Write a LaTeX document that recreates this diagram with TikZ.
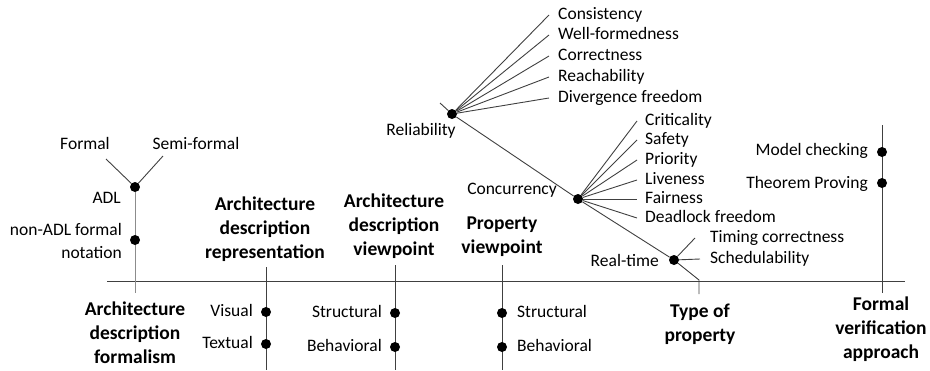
\documentclass[tikz,border=0pt]{standalone}
\usepackage{fontspec}
\setmainfont{Carlito}
\usepackage{tikz}

\begin{document}
\begin{tikzpicture}[x=1pt, y=-1pt,
        dot/.style={circle, fill=black, inner sep=0pt, minimum size=10pt},
        lbl/.style={inner sep=0pt, text height=1em, text depth=0.2em,
                    font=\fontsize{17.5}{20.5}\selectfont},
        mlbl/.style={inner sep=0pt, align=right, font=\fontsize{17.5}{22.5}\selectfont},
        ttl/.style={inner sep=0pt, align=center, font=\fontsize{19.5}{24}\selectfont\bfseries},
        ln/.style={draw=black!75, line width=0.9pt}]

    \useasboundingbox (0,0) rectangle (930,370);

    % main axis
    \coordinate (axL) at (107,281);
    \coordinate (axR) at (905,281);
    \draw[ln] (axL) -- (axR);

    % architecture description formalism
    \coordinate (adfB) at (135,293);
    \coordinate (formalE) at (106,159);
    \coordinate (semiE) at (163,156);
    \node[dot] (adl) at (135,187) {};
    \draw[ln, draw=black!45] (adl) -- (adfB);
    \draw[ln] (formalE) -- (adl);
    \draw[ln] (semiE) -- (adl);
    \node[dot] (nonadl) at (135,240) {};
    \node[lbl] (formal) at (85,145) {Formal};
    \node[lbl] (semi) at (196,145) {Semi-formal};
    \node[lbl, anchor=east] (adlT) at (121,199) {ADL};
    \node[mlbl, anchor=east] (nonadlT) at (122,241) {non-ADL formal\\notation};
    \node[ttl] (adf) at (135,333) {Architecture\\description\\formalism};

    % architecture description representation
    \coordinate (adrT) at (266,267);
    \coordinate (adrB) at (266,370);
    \draw[ln] (adrT) -- (adrB);
    \node[dot] (visual) at (266,312) {};
    \node[dot] (textual) at (266,344) {};
    \node[lbl, anchor=east] (visualT) at (253,312) {Visual};
    \node[lbl, anchor=east] (textualT) at (253,344) {Textual};
    \node[ttl] (adr) at (265,229) {Architecture\\description\\representation};

    % architecture description viewpoint
    \coordinate (advT) at (395,265);
    \coordinate (advB) at (395,370);
    \draw[ln] (advT) -- (advB);
    \node[dot] (advS) at (395,313) {};
    \node[dot] (advBh) at (395,347) {};
    \node[lbl, anchor=east] (advST) at (382,313) {Structural};
    \node[lbl, anchor=east] (advBT) at (382,347) {Behavioral};
    \node[ttl] (adv) at (394,226) {Architecture\\description\\viewpoint};

    % property viewpoint
    \coordinate (pvT) at (502,265);
    \coordinate (pvB) at (502,370);
    \draw[ln] (pvT) -- (pvB);
    \node[dot] (pvS) at (502,313) {};
    \node[dot] (pvBh) at (502,347) {};
    \node[lbl, anchor=west] (pvST) at (517,313) {Structural};
    \node[lbl, anchor=west] (pvBT) at (517,347) {Behavioral};
    \node[ttl] (pv) at (502,237) {Property\\viewpoint};

    % type of property
    \coordinate (relE) at (440,103);
    \coordinate (topT) at (699,280);
    \coordinate (topB) at (699,294);
    \node[dot] (rel) at (452,114) {};
    \node[dot] (conc) at (578,199) {};
    \node[dot] (rt) at (674,260) {};
    \draw[ln] (relE) -- (rel) -- (conc) -- (rt) -- (topT) -- (topB);
    \node[lbl] (relT) at (421,131) {Reliability};
    \node[lbl, anchor=east] (concT) at (557,190) {Concurrency};
    \node[lbl, anchor=east] (rtT) at (659,262) {Real-time};
    \node[ttl] (top) at (700,324) {Type of\\property};

    \foreach \nm/\txt/\yy in {cons/Consistency/15, wellf/Well-formedness/35,
            corr/Correctness/56, reach/Reachability/77, diverg/Divergence freedom/98} {
        \node[lbl, anchor=west] (\nm) at (558,\yy) {\txt};
        \draw[ln] (rel) -- ([xshift=-9pt]\nm.west);
    }

    \foreach \nm/\txt/\yy in {crit/Criticality/121, safe/Safety/140, prio/Priority/160,
            live/Liveness/180, fair/Fairness/199, dead/Deadlock freedom/218} {
        \node[lbl, anchor=west] (\nm) at (645,\yy) {\txt};
        \draw[ln] (conc) -- ([xshift=-8pt]\nm.west);
    }

    \node[lbl, anchor=west] (timing) at (710,238) {Timing correctness};
    \node[lbl, anchor=west] (sched) at (710,259) {Schedulability};
    \draw[ln] (rt) -- ([xshift=-15pt]timing.west);
    \draw[ln] (rt) -- ([xshift=-10pt]sched.west);

    % formal verification approach
    \coordinate (fvaT) at (882,125);
    \coordinate (fvaB) at (882,293);
    \draw[ln] (fvaT) -- (fvaB);
    \node[dot] (mc) at (882,152) {};
    \node[dot] (tp) at (882,183) {};
    \node[lbl, anchor=east] (mcT) at (868,151) {Model checking};
    \node[lbl, anchor=east] (tpT) at (868,184) {Theorem Proving};
    \node[ttl] (fva) at (881,329) {Formal\\verification\\approach};
\end{tikzpicture}
\end{document}
